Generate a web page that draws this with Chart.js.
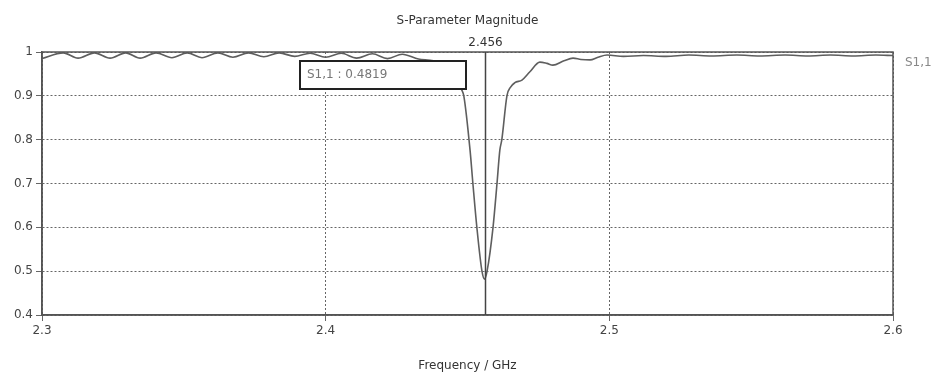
<!DOCTYPE html>
<html>
<head>
<meta charset="utf-8">
<script src="https://cdn.jsdelivr.net/npm/chart.js@4/dist/chart.umd.min.js"></script>
<style>
  html, body { margin: 0; padding: 0; background: #fff; }
  #wrap { width: 937px; height: 374px; }
</style>
</head>
<body>
<div id="wrap"><canvas id="sparamChart" width="937" height="374"></canvas></div>
<script>
// S1,1 magnitude
var freqGHz = [
  2.300, 2.3075, 2.3127, 2.3185, 2.3240, 2.3295, 2.3346, 2.3402, 2.3458, 2.3512,
  2.3564, 2.3620, 2.3673, 2.3728, 2.3782, 2.3836, 2.3891, 2.3945, 2.4000, 2.4055,
  2.4109, 2.4165, 2.4218, 2.4270, 2.4327, 2.4380, 2.4430, 2.4465, 2.4480, 2.4487,
  2.4509, 2.4519, 2.4533, 2.4551, 2.4560, 2.4569, 2.4590, 2.4604, 2.4614, 2.4621,
  2.4639, 2.4652, 2.4667, 2.4692, 2.4720, 2.4755, 2.4780, 2.4801, 2.4840, 2.4872,
  2.4900, 2.4932, 2.4960, 2.4992, 2.505, 2.512, 2.520, 2.528, 2.536, 2.545,
  2.553, 2.562, 2.570, 2.578, 2.586, 2.594, 2.600
];
var s11Mag = [
  0.985, 0.998, 0.986, 0.998, 0.986, 0.998, 0.986, 0.998, 0.987, 0.998,
  0.987, 0.998, 0.988, 0.998, 0.989, 0.998, 0.990, 0.997, 0.988, 0.997,
  0.986, 0.996, 0.985, 0.995, 0.984, 0.980, 0.965, 0.935, 0.913, 0.900,
  0.776, 0.700, 0.600, 0.500, 0.4819, 0.500, 0.600, 0.700, 0.776, 0.800,
  0.900, 0.920, 0.930, 0.936, 0.955, 0.977, 0.974, 0.970, 0.980, 0.986,
  0.983, 0.982, 0.988, 0.993, 0.990, 0.992, 0.990, 0.993, 0.991, 0.993,
  0.991, 0.993, 0.991, 0.993, 0.991, 0.993, 0.992
];
var xTicks = [2.3, 2.4, 2.5, 2.6];
var yTicks = [0.4, 0.5, 0.6, 0.7, 0.8, 0.9, 1];
var markerFreq = 2.456;
var markerValue = 0.4819;
var seriesName = 'S1,1';
var chartTitle = 'S-Parameter Magnitude';
var xTitle = 'Frequency / GHz';

var FONT = '"DejaVu Sans", Verdana, sans-serif';

var points = [];
for (var i = 0; i < freqGHz.length; i++) {
  points.push({ x: freqGHz[i], y: s11Mag[i] });
}

// frame, marker line, marker box and the loose labels
var decorPlugin = {
  id: 'decor',
  afterDatasetsDraw: function(chart) {
    var ctx = chart.ctx;
    var a = chart.chartArea;
    var xs = chart.scales.x;
    ctx.save();

    // plot frame
    ctx.strokeStyle = '#555';
    ctx.lineWidth = 1.5;
    ctx.strokeRect(a.left, a.top, a.right - a.left, a.bottom - a.top);

    // marker line
    var mx = Math.round(xs.getPixelForValue(markerFreq)) + 0.5;
    ctx.strokeStyle = '#444';
    ctx.lineWidth = 1.5;
    ctx.beginPath();
    ctx.moveTo(mx, a.top);
    ctx.lineTo(mx, a.bottom);
    ctx.stroke();

    // marker readout box
    ctx.fillStyle = '#fff';
    ctx.fillRect(300, 61, 166, 28);
    ctx.strokeStyle = '#222';
    ctx.lineWidth = 2;
    ctx.strokeRect(300, 61, 166, 28);
    ctx.font = '12px ' + FONT;
    ctx.fillStyle = '#777';
    ctx.textAlign = 'left';
    ctx.textBaseline = 'middle';
    ctx.fillText(seriesName + ' : ' + markerValue.toFixed(4), 307, 75);

    // marker freq label
    ctx.fillStyle = '#333';
    ctx.textAlign = 'center';
    ctx.fillText(String(markerFreq), mx, 43);

    // chart title
    ctx.fillText(chartTitle, (a.left + a.right) / 2, 21);

    // x axis title
    ctx.fillText(xTitle, (a.left + a.right) / 2, 366);

    // series label at right
    ctx.fillStyle = '#888';
    ctx.textAlign = 'left';
    ctx.fillText(seriesName, a.right + 12, 63);

    ctx.restore();
  }
};

var ctxChart = document.getElementById('sparamChart');
var sparamChart = new Chart(ctxChart, {
  type: 'line',
  data: {
    datasets: [{
      label: seriesName,
      data: points,
      borderColor: '#5e5e5e',
      borderWidth: 1.6,
      pointRadius: 0,
      cubicInterpolationMode: 'monotone',
      fill: false
    }]
  },
  options: {
    responsive: false,
    animation: false,
    events: [],
    layout: {
      padding: { top: 52, right: 44, left: 0, bottom: 0 }
    },
    plugins: {
      legend: { display: false },
      title: { display: false },
      tooltip: { enabled: false }
    },
    scales: {
      x: {
        type: 'linear',
        min: xTicks[0],
        max: xTicks[xTicks.length - 1],
        afterFit: function(scale) { scale.height = 59; },
        afterBuildTicks: function(scale) {
          scale.ticks = xTicks.map(function(v) { return { value: v }; });
        },
        ticks: {
          color: '#444',
          font: { family: FONT, size: 12 },
          padding: 3,
          maxRotation: 0,
          callback: function(v) { return String(Number(v.toFixed(1))); }
        },
        grid: {
          color: '#666',
          lineWidth: 1,
          tickLength: 6,
          drawTicks: true
        },
        border: { display: true, color: '#555', width: 1.5, dash: [2, 2] }
      },
      y: {
        min: yTicks[0],
        max: yTicks[yTicks.length - 1],
        afterFit: function(scale) { scale.width = 42; },
        afterBuildTicks: function(scale) {
          scale.ticks = yTicks.map(function(v) { return { value: v }; });
        },
        ticks: {
          color: '#444',
          font: { family: FONT, size: 12 },
          padding: 3,
          callback: function(v) { return String(Number(v.toFixed(1))); }
        },
        grid: {
          color: '#666',
          lineWidth: 1,
          tickLength: 6,
          drawTicks: true
        },
        border: { display: true, color: '#555', width: 1.5, dash: [2, 2] }
      }
    }
  },
  plugins: [decorPlugin]
});
</script>
</body>
</html>
